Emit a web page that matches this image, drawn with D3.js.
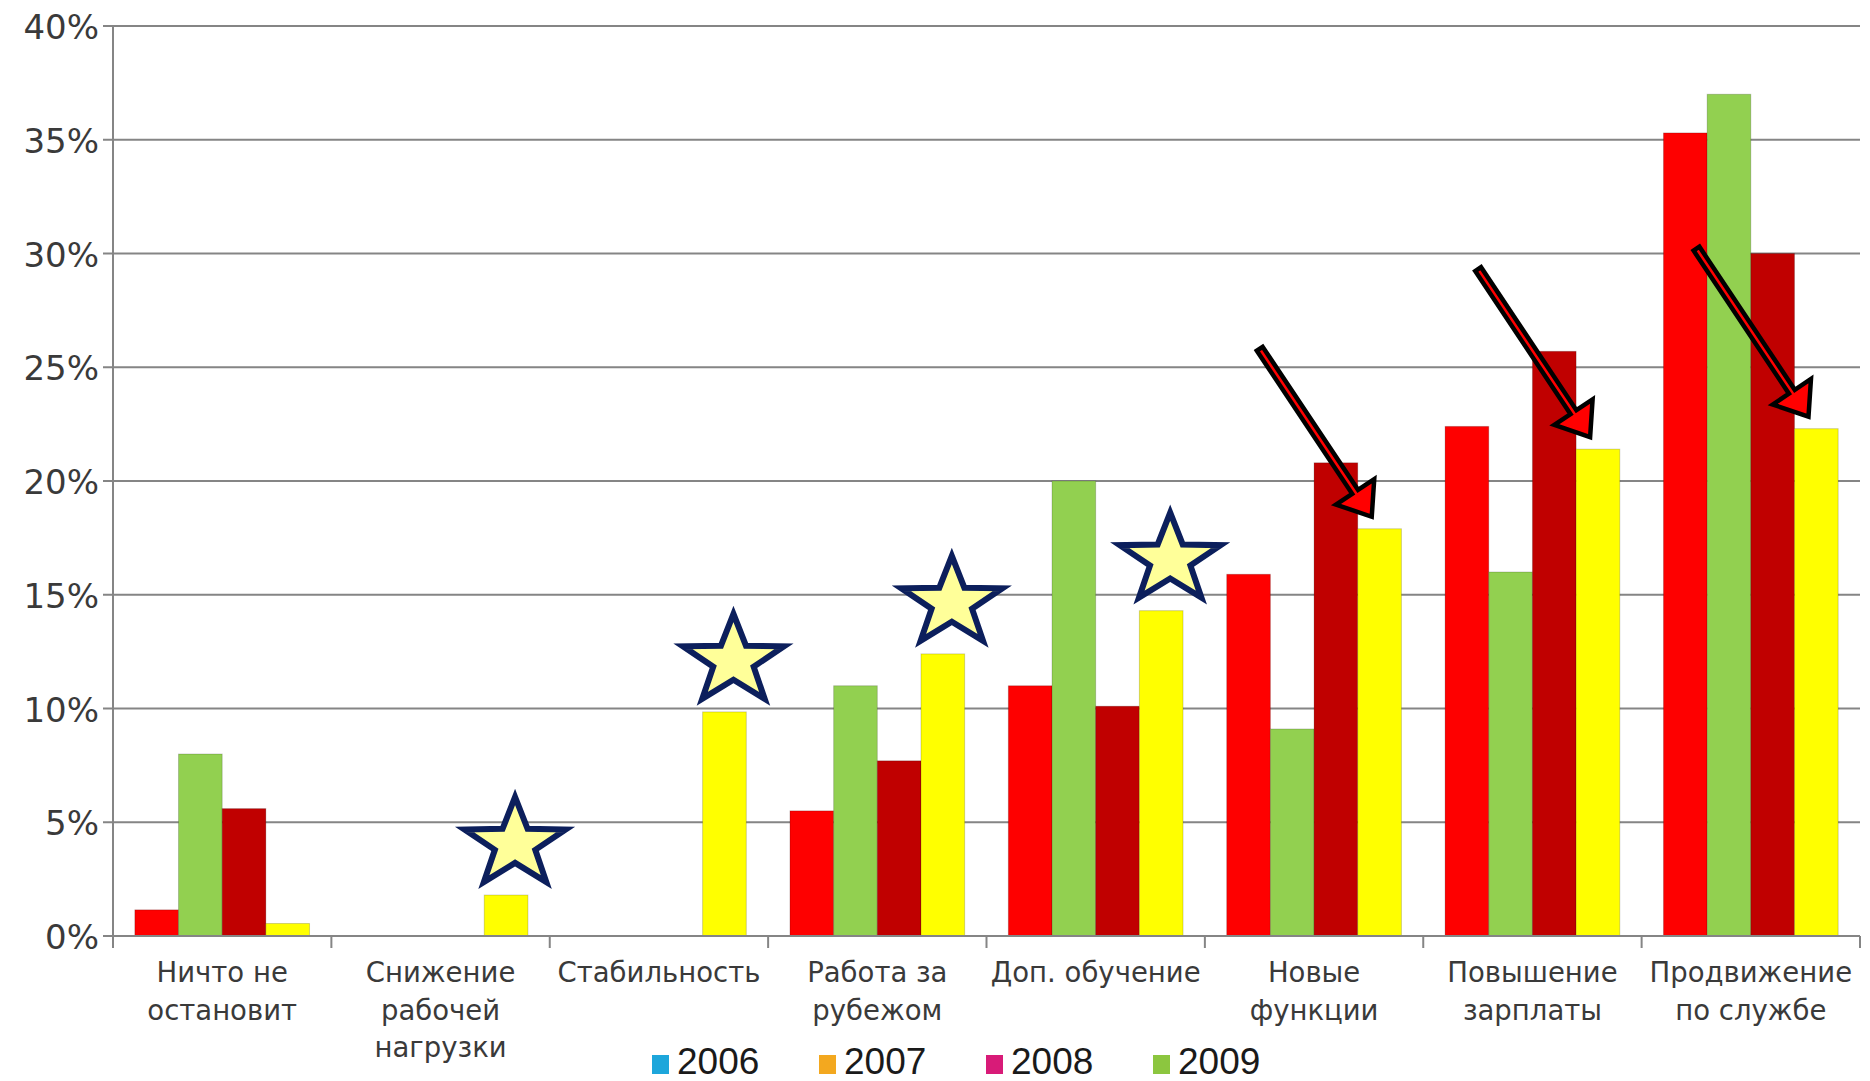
<!DOCTYPE html>
<html>
<head>
<meta charset="utf-8">
<script src="https://cdn.jsdelivr.net/npm/d3@7"></script>
<style>
  body { margin: 0; background: #fff; }
  svg { display: block; }
</style>
</head>
<body>
<div id="chart"></div>
<script>
// categories (line breaks marked with |)
const categories = ["Ничто не|остановит", "Снижение|рабочей|нагрузки", "Стабильность",
  "Работа за|рубежом", "Доп. обучение", "Новые|функции", "Повышение|зарплаты", "Продвижение|по службе"];

// bar series, in drawing order (values in %)
const seriesRed     = [1.15, 0, 0, 5.5, 11.0, 15.9, 22.4, 35.3];
const seriesGreen   = [8.0, 0, 0, 11.0, 20.0, 9.1, 16.0, 37.0];
const seriesDarkRed = [5.6, 0, 0, 7.7, 10.1, 20.8, 25.7, 30.0];
const seriesYellow  = [0.55, 1.8, 9.85, 12.4, 14.3, 17.9, 21.4, 22.3];

const yTicks = [0, 5, 10, 15, 20, 25, 30, 35, 40];

// legend as printed on the original
const legendYears  = ["2006", "2007", "2008", "2009"];
const legendColors = ["#1da6db", "#f3a81f", "#d81b78", "#8cc63f"];

// annotations: stars above these categories' yellow bars, arrows to these
const starCats  = [1, 2, 3, 4];
const arrowCats = [5, 6, 7];

const W = 1870, H = 1081;
const margin = { top: 26, right: 10, bottom: 145, left: 113 };

const series = [
  { key: "red", color: "#fe0000", values: seriesRed },
  { key: "green", color: "#92d050", values: seriesGreen },
  { key: "darkred", color: "#c00000", values: seriesDarkRed },
  { key: "yellow", color: "#ffff00", values: seriesYellow }
];

const svg = d3.select("#chart").append("svg")
  .attr("width", W)
  .attr("height", H);

const x0 = d3.scaleBand()
  .domain(categories)
  .range([margin.left, W - margin.right])
  .padding(0);

const x1 = d3.scaleBand()
  .domain(series.map(s => s.key))
  .range([x0.bandwidth() * 0.1, x0.bandwidth() * 0.9])
  .padding(0);

const y = d3.scaleLinear()
  .domain([0, 40])
  .range([H - margin.bottom, margin.top]);

// gridlines
svg.append("g")
  .selectAll("line")
  .data(yTicks)
  .enter().append("line")
  .attr("x1", margin.left - 10)
  .attr("x2", W - margin.right)
  .attr("y1", d => y(d))
  .attr("y2", d => y(d))
  .attr("stroke", "#858585")
  .attr("stroke-width", 2);

// y axis labels
svg.append("g")
  .selectAll("text")
  .data(yTicks)
  .enter().append("text")
  .attr("x", margin.left - 14)
  .attr("y", d => y(d) + 13)
  .attr("text-anchor", "end")
  .style("font-family", "DejaVu Sans, Verdana, sans-serif")
  .style("font-size", "34px")
  .style("fill", "#3a3a3a")
  .text(d => d + "%");

// y axis line
svg.append("line")
  .attr("x1", margin.left).attr("x2", margin.left)
  .attr("y1", y(40)).attr("y2", y(0) + 12)
  .attr("stroke", "#858585")
  .attr("stroke-width", 2);

// bars
const groups = svg.append("g")
  .selectAll("g")
  .data(categories)
  .enter().append("g")
  .attr("transform", d => `translate(${x0(d)},0)`);

groups.selectAll("rect")
  .data((d, i) => series.map(s => ({ key: s.key, color: s.color, value: s.values[i] })))
  .enter().append("rect")
  .filter(d => d.value > 0)
  .attr("x", d => x1(d.key))
  .attr("y", d => y(d.value))
  .attr("width", x1.bandwidth())
  .attr("height", d => y(0) - y(d.value))
  .attr("fill", d => d.color)
  .attr("stroke", "rgba(0,0,0,0.18)")
  .attr("stroke-width", 1);

// x axis line and ticks
svg.append("line")
  .attr("x1", margin.left).attr("x2", W - margin.right)
  .attr("y1", y(0)).attr("y2", y(0))
  .attr("stroke", "#858585")
  .attr("stroke-width", 2);

const boundaries = categories.map(c => x0(c)).concat([W - margin.right]);
svg.append("g")
  .selectAll("line")
  .data(boundaries)
  .enter().append("line")
  .attr("x1", d => d).attr("x2", d => d)
  .attr("y1", y(0)).attr("y2", y(0) + 12)
  .attr("stroke", "#858585")
  .attr("stroke-width", 2);

// category labels
const labels = svg.append("g")
  .selectAll("text")
  .data(categories)
  .enter().append("text")
  .attr("text-anchor", "middle")
  .style("font-family", "DejaVu Sans, Verdana, sans-serif")
  .style("font-size", "27.5px")
  .style("fill", "#3a3a3a");

labels.selectAll("tspan")
  .data(d => d.split("|").map(t => ({ t, cx: x0(d) + x0.bandwidth() / 2 })))
  .enter().append("tspan")
  .attr("x", d => d.cx)
  .attr("y", (d, i) => y(0) + 46 + i * 37.5)
  .text(d => d.t);

// stars above yellow bars
function starPath(cx, cy, R, r, sx) {
  const pts = [];
  for (let k = 0; k < 10; k++) {
    const a = -Math.PI / 2 + k * Math.PI / 5;
    const rr = k % 2 === 0 ? R : r;
    pts.push([cx + Math.cos(a) * rr * sx, cy + Math.sin(a) * rr]);
  }
  return "M" + pts.map(p => p.join(",")).join("L") + "Z";
}

const starR = 47;
svg.append("g")
  .selectAll("path")
  .data(starCats)
  .enter().append("path")
  .attr("d", i => {
    const cx = x0(categories[i]) + x1("yellow") + x1.bandwidth() / 2 + 9;
    const bottom = y(seriesYellow[i]) - 13;
    const cy = bottom - starR * Math.cos(Math.PI / 5);
    return starPath(cx, cy, starR, starR * 0.4, 1.13);
  })
  .attr("fill", "#ffff99")
  .attr("stroke", "#0c1f5c")
  .attr("stroke-width", 6)
  .attr("stroke-linejoin", "miter");

// arrows pointing at yellow bars
function arrowPath(tx, ty, px, py) {
  const dx = px - tx, dy = py - ty;
  const L = Math.hypot(dx, dy);
  const ux = dx / L, uy = dy / L;
  const nx = -uy, ny = ux;
  const sw = 3.5, hw = 23, hl = 30;
  const bx = px - ux * hl, by = py - uy * hl;
  const pts = [
    [tx + nx * sw, ty + ny * sw],
    [bx + nx * sw, by + ny * sw],
    [bx + nx * hw, by + ny * hw],
    [px, py],
    [bx - nx * hw, by - ny * hw],
    [bx - nx * sw, by - ny * sw],
    [tx - nx * sw, ty - ny * sw]
  ];
  return "M" + pts.map(p => p.join(",")).join("L") + "Z";
}

svg.append("g")
  .selectAll("path")
  .data(arrowCats)
  .enter().append("path")
  .attr("d", i => {
    const px = x0(categories[i]) + x1("yellow") + 14;
    const py = y(seriesYellow[i]) - 12;
    return arrowPath(px - 112, py - 168, px, py);
  })
  .attr("fill", "#ff0000")
  .attr("stroke", "#000")
  .attr("stroke-width", 4.5)
  .attr("stroke-linejoin", "miter");

// legend
const legend = svg.append("g")
  .selectAll("g")
  .data(legendYears)
  .enter().append("g")
  .attr("transform", (d, i) => `translate(${652 + i * 167},0)`);

legend.append("rect")
  .attr("x", 0)
  .attr("y", 1055)
  .attr("width", 17)
  .attr("height", 19)
  .attr("fill", (d, i) => legendColors[i]);

legend.append("text")
  .attr("x", 25)
  .attr("y", 1074)
  .style("font-family", "Liberation Sans, Arial, sans-serif")
  .style("font-size", "37px")
  .style("fill", "#1a1a1a")
  .text(d => d);
</script>
</body>
</html>
